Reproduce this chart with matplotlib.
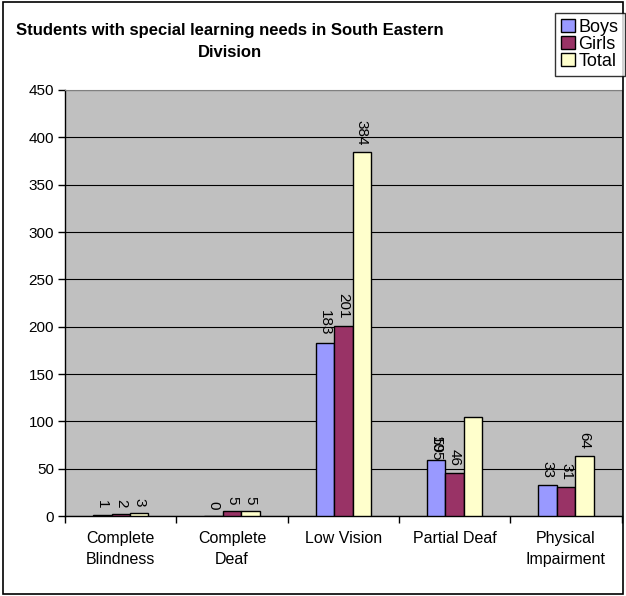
import matplotlib
matplotlib.use("Agg")
import matplotlib.pyplot as plt
import numpy as np
from matplotlib.patches import Rectangle

plt.rcParams["font.family"] = ["Liberation Sans", "DejaVu Sans"]

categories = ["Complete\nBlindness", "Complete\nDeaf", "Low Vision", "Partial Deaf", "Physical\nImpairment"]
boys = [1, 0, 183, 59, 33]
girls = [2, 5, 201, 46, 31]
total = [3, 5, 384, 105, 64]
series_names = ["Boys", "Girls", "Total"]
colors = ["#9999FF", "#993366", "#FFFFCC"]

fig = plt.figure(figsize=(6.26, 5.96), dpi=100)
fig.patch.set_facecolor("white")
fig.patches.append(Rectangle((0.004, 0.004), 0.992, 0.992, transform=fig.transFigure,
                             fill=False, edgecolor="black", linewidth=1.2))

ax = fig.add_axes([0.104, 0.134, 0.889, 0.715])
ax.set_facecolor("#C0C0C0")

x = np.arange(len(categories))
w = 0.166
handles = []
for i, (vals, name, c) in enumerate(zip([boys, girls, total], series_names, colors)):
    pos = x + (i - 1) * w
    b = ax.bar(pos, vals, width=w, color=c, edgecolor="black", linewidth=1.0, zorder=3, label=name)
    handles.append(b)
    for j, (p, v) in enumerate(zip(pos, vals)):
        # Partial Deaf total label sits on top of the Boys label in the original
        if name == "Total" and j == 3:
            ax.annotate(str(v), (x[j] - w, boys[j]), xytext=(0, -1), textcoords="offset points",
                        rotation=270, ha="center", va="bottom", fontsize=11, zorder=4)
            continue
        ax.annotate(str(v), (p, v), xytext=(0, 5), textcoords="offset points",
                    rotation=270, ha="center", va="bottom", fontsize=11, zorder=4)

ax.set_xlim(-0.5, len(categories) - 0.5)
ax.set_ylim(0, 450)
ax.set_yticks(np.arange(0, 451, 50))
ax.yaxis.grid(True, color="black", linewidth=0.8, zorder=1)
ax.set_axisbelow(True)

ax.set_xticks(np.arange(-0.5, len(categories), 1.0))
ax.set_xticklabels([])
ax.set_xticks(x, minor=True)
ax.set_xticklabels(categories, minor=True, fontsize=11.5, linespacing=1.45)
ax.tick_params(axis="x", which="minor", length=0, pad=11)
ax.tick_params(axis="x", which="major", length=5, width=1, direction="out")
ax.tick_params(axis="y", length=5, width=1, direction="out", labelsize=11, pad=3)

for s in ["top", "right"]:
    ax.spines[s].set_color("#808080")
for s in ["left", "bottom"]:
    ax.spines[s].set_color("black")
    ax.spines[s].set_linewidth(1.0)

fig.text(0.367, 0.930, "Students with special learning needs in South Eastern\nDivision",
         ha="center", va="center", fontsize=12, fontweight="bold", linespacing=1.55)

leg = fig.legend(handles=handles, labels=series_names, loc="upper right",
                 bbox_to_anchor=(0.998, 0.979), frameon=True, fancybox=False,
                 prop={"family": ["Liberation Sans Narrow", "Liberation Sans"], "size": 13},
                 handlelength=0.75, handleheight=0.75, handletextpad=0.2, labelspacing=0.0,
                 borderpad=0.35, borderaxespad=0)
leg.get_frame().set_edgecolor("black")
leg.get_frame().set_linewidth(1.0)

fig.savefig("out.png", dpi=100)
